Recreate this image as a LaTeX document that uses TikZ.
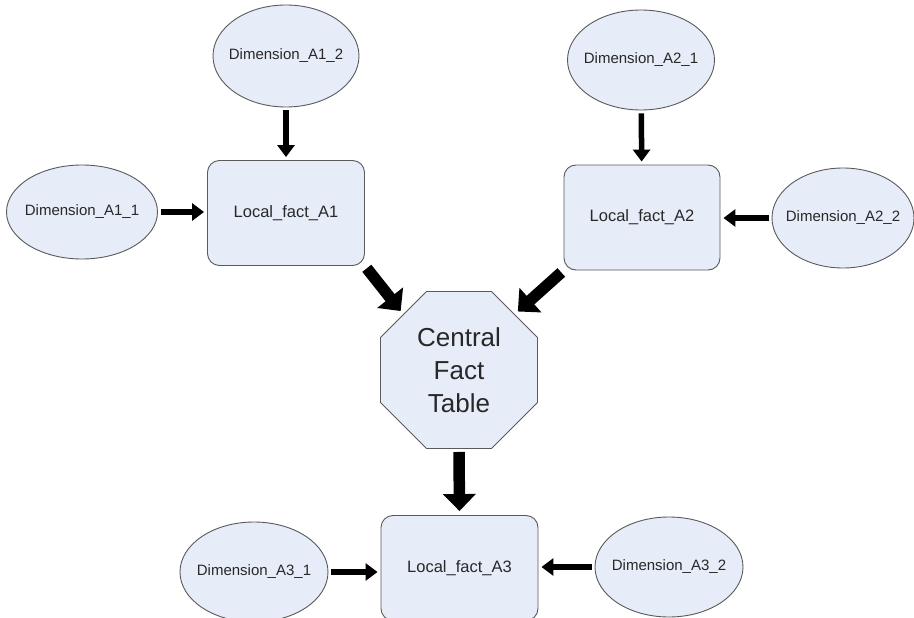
\documentclass[tikz,border=0pt]{standalone}
\usepackage{fontspec}
\setmainfont{Liberation Sans}
\usetikzlibrary{shapes.geometric,arrows.meta}
\definecolor{boxfill}{RGB}{230,236,248}
\definecolor{boxline}{RGB}{90,90,90}
\definecolor{txt}{RGB}{40,40,40}
\newcommand\dimtext[1]{\makebox[0pt]{#1}}
\tikzset{
  dim/.style={ellipse, draw=boxline, fill=boxfill, line width=0.9pt, inner sep=0pt,
    font=\fontsize{15}{17}\selectfont, text=txt},
  fact/.style={rectangle, rounded corners=12pt, draw=boxline, fill=boxfill, line width=0.9pt,
    inner sep=0pt, minimum width=156pt, minimum height=105pt, font=\fontsize{16.5}{19}\selectfont, text=txt},
  central/.style={regular polygon, regular polygon sides=8, draw=boxline, fill=boxfill, line width=0.9pt,
    inner sep=0pt, minimum size=170pt, font=\fontsize{26}{33}\selectfont, text=txt, align=center},
  arr/.style={line width=5.5pt, -{Triangle[width=17pt,length=12pt]}, shorten <=3pt, shorten >=3pt},
  bigarr/.style={line width=11.5pt, -{Triangle[width=32pt,length=17pt]}, shorten <=3pt, shorten >=4pt},
}
\begin{document}
\begin{tikzpicture}[x=1pt,y=-1pt]
\clip (0,0) rectangle (914,618);
\useasboundingbox (0,0) rectangle (914,618);
\fill[white] (0,0) rectangle (914,618);
% nodes
\node[dim, minimum width=146pt, minimum height=102pt] (d12) at (286,56) {\dimtext{Dimension\_A1\_2}};
\node[fact, minimum width=157pt] (a1) at (286,213) {Local\_fact\_A1};
\node[dim, minimum width=151pt, minimum height=94pt] (d11) at (82,212) {\dimtext{Dimension\_A1\_1}};
\node[dim, minimum width=147pt, minimum height=100pt] (d21) at (641,60) {\dimtext{Dimension\_A2\_1}};
\node[fact] (a2) at (642,217.5) {Local\_fact\_A2};
\node[dim, minimum width=142pt, minimum height=100pt] (d22) at (843,218) {\dimtext{Dimension\_A2\_2}};
\node[central] (c) at (459,370) {Central\\Fact\\Table};
\node[fact, minimum width=157pt] (a3) at (459.5,568) {Local\_fact\_A3};
\node[dim, minimum width=148pt, minimum height=100pt] (d31) at (254,572) {\dimtext{Dimension\_A3\_1}};
\node[dim, minimum width=148pt, minimum height=100pt] (d32) at (669,567) {\dimtext{Dimension\_A3\_2}};
% arrows
\draw[arr] (d12) -- (a1);
\draw[arr] (d11.east) -- (d11.east -| a1.west);
\draw[arr] (d21) -- (a2);
\draw[arr] (d22.west) -- (d22.west -| a2.east);
\draw[bigarr] (a1.south east) -- (c.135);
\draw[bigarr] (a2.south west) -- (c.45);
\draw[bigarr] (c.south) -- (a3.north);
\draw[arr] (d31.east) -- (d31.east -| a3.west);
\draw[arr] (d32.west) -- (d32.west -| a3.east);
\end{tikzpicture}
\end{document}
